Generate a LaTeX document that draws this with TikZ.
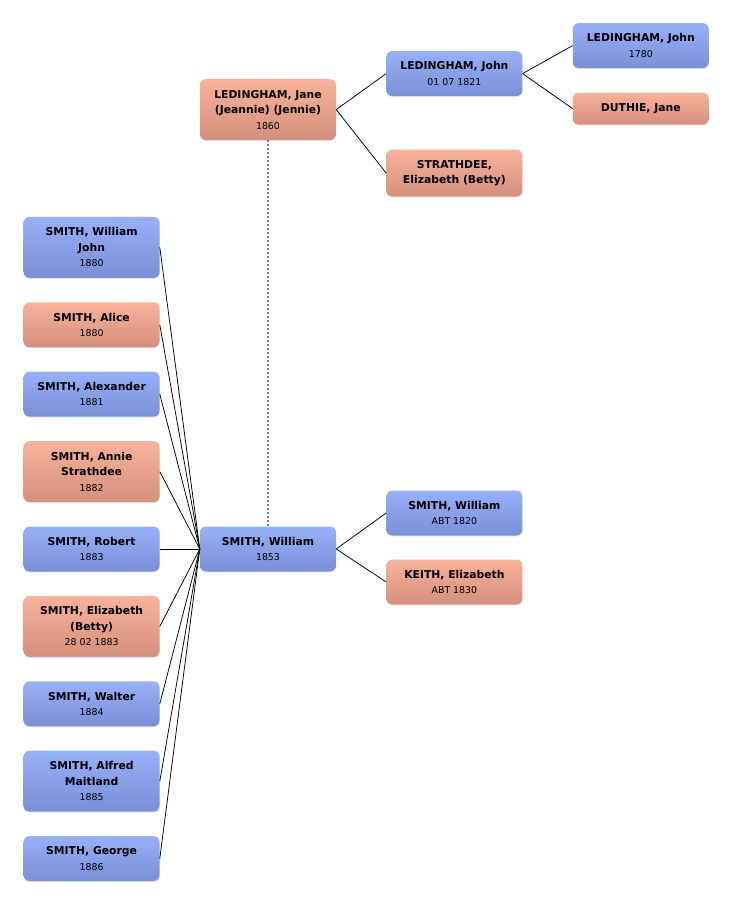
\documentclass[tikz,border=0pt]{standalone}
\usepackage{fontspec}
\setmainfont{DejaVu Sans}
\usetikzlibrary{positioning, shadows}
\definecolor{maletop}{HTML}{98B0FA}
\definecolor{malebot}{HTML}{7A8FD6}
\definecolor{femtop}{HTML}{F8B29B}
\definecolor{fembot}{HTML}{D4907E}
\tikzset{
  x=1pt, y=1pt,
  person/.style={rounded corners=6pt, minimum width=136pt, minimum height=45pt,
    align=center, inner sep=2pt, font=\fontsize{10.8}{15.5}\selectfont,
    drop shadow={opacity=0.18, shadow xshift=0pt, shadow yshift=-1pt}},
  male/.style={person, top color=maletop, bottom color=malebot},
  female/.style={person, top color=femtop, bottom color=fembot},
  tall/.style={minimum height=61pt},
  link/.style={black, line width=0.75pt},
  spouse/.style={gray, line width=1.3pt, dash pattern=on 2pt off 2pt},
}
\newcommand{\yr}[1]{{\fontsize{9.4}{12}\selectfont #1}}

\begin{document}
\begin{tikzpicture}
      \useasboundingbox (0,0) rectangle (732,-904);

      \node[male] (william) at (268,-549) {\textbf{SMITH, William}\\\yr{1853}};
      \node[male,right=50pt of william,yshift=36pt] (wfather) {\textbf{SMITH, William}\\\yr{ABT 1820}};
      \node[female,right=50pt of william,yshift=-33pt] (wmother) {\textbf{KEITH, Elizabeth}\\\yr{ABT 1830}};

      \node[female,tall,above=386pt of william] (jane) {\textbf{LEDINGHAM, Jane}\\\textbf{(Jeannie) (Jennie)}\\\yr{1860}};
      \node[male,right=50pt of jane,yshift=36pt] (jfather) {\textbf{LEDINGHAM, John}\\\yr{01 07 1821}};
      \node[female,minimum height=47pt,right=50pt of jane,yshift=-63.5pt] (jmother) {\textbf{STRATHDEE,}\\\textbf{Elizabeth (Betty)}};
      \node[male,right=50pt of jfather,yshift=28pt] (jgfather) {\textbf{LEDINGHAM, John}\\\yr{1780}};
      \node[female,minimum height=32pt,right=50pt of jfather,yshift=-35pt] (jgmother) {\textbf{DUTHIE, Jane}};

      \node[male,left=40pt of william] (robert) {\textbf{SMITH, Robert}\\\yr{1883}};
      \node[female,tall,above=24pt of robert] (annie) {\textbf{SMITH, Annie}\\\textbf{Strathdee}\\\yr{1882}};
      \node[male,above=24pt of annie] (alexander) {\textbf{SMITH, Alexander}\\\yr{1881}};
      \node[female,above=24pt of alexander] (alice) {\textbf{SMITH, Alice}\\\yr{1880}};
      \node[male,tall,above=24pt of alice] (wjohn) {\textbf{SMITH, William}\\\textbf{John}\\\yr{1880}};
      \node[female,tall,below=24pt of robert] (elizabeth) {\textbf{SMITH, Elizabeth}\\\textbf{(Betty)}\\\yr{28 02 1883}};
      \node[male,below=24pt of elizabeth] (walter) {\textbf{SMITH, Walter}\\\yr{1884}};
      \node[male,tall,below=24pt of walter] (alfred) {\textbf{SMITH, Alfred}\\\textbf{Maitland}\\\yr{1885}};
      \node[male,below=24pt of alfred] (george) {\textbf{SMITH, George}\\\yr{1886}};

      \draw[spouse] (jane.south) -- (william.north);

      \draw[link] (william.east) -- (wfather.west)
                  (william.east) -- (wmother.west)
                  (jane.east) -- (jfather.west)
                  (jane.east) -- (jmother.west)
                  (jfather.east) -- (jgfather.west)
                  (jfather.east) -- (jgmother.west);

      \foreach \kid in {wjohn,alice,alexander,annie,robert,elizabeth,walter,alfred,george}
        \draw[link] (\kid.east) -- (william.west);
    \end{tikzpicture}
\end{document}
